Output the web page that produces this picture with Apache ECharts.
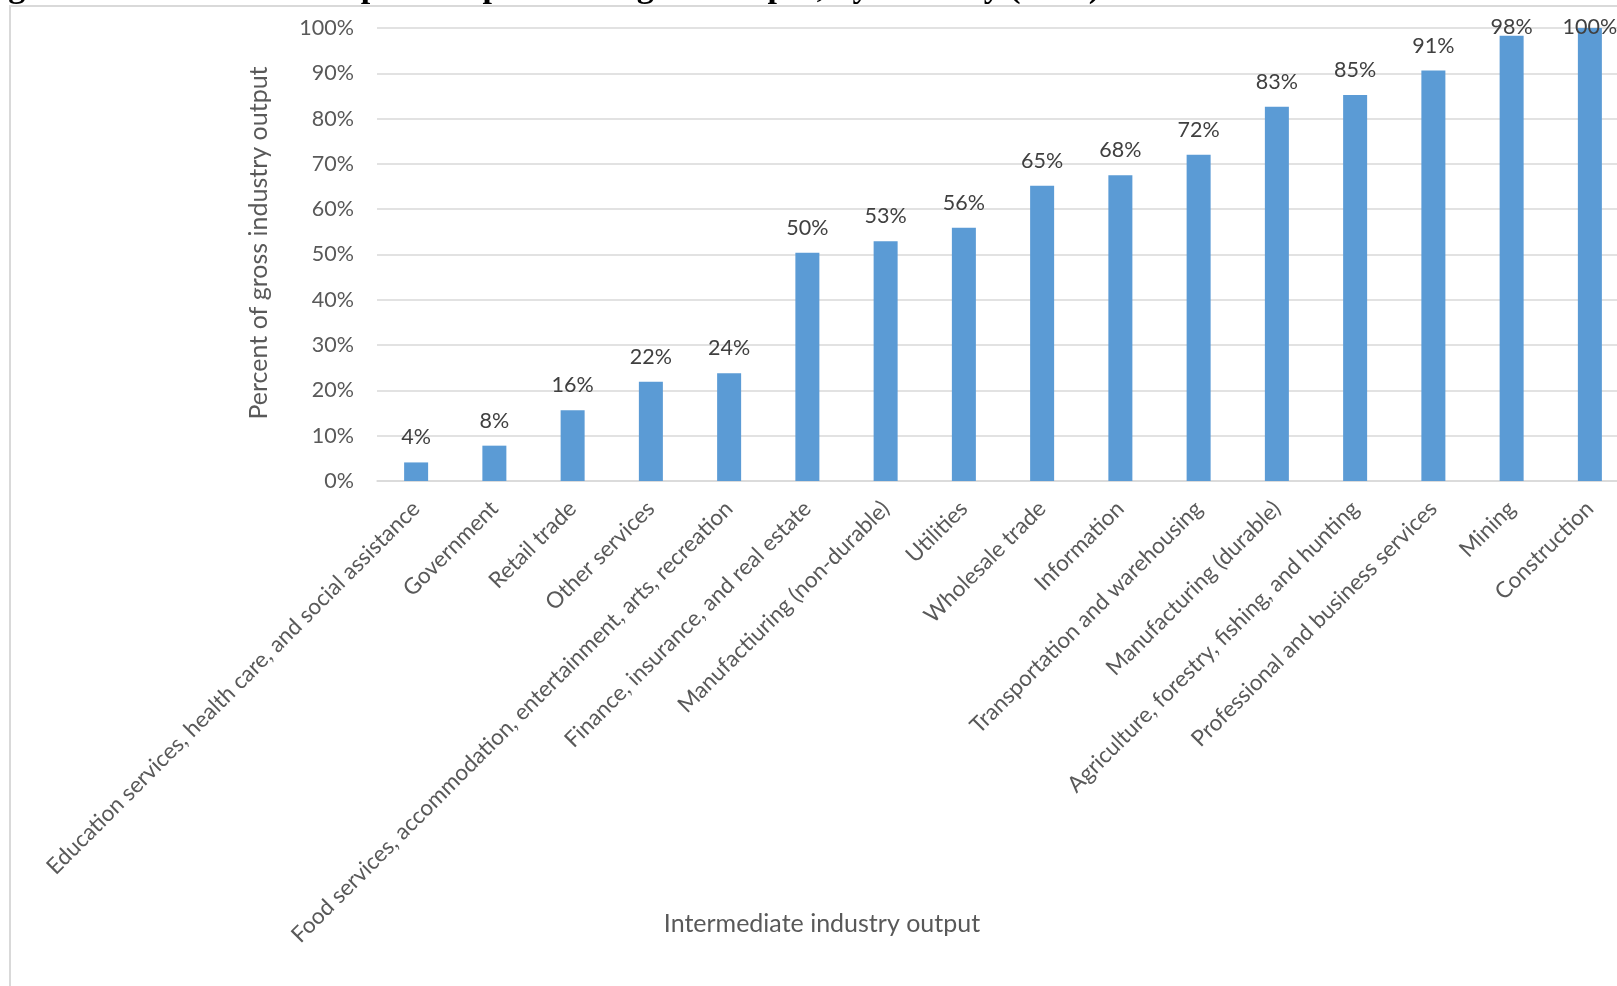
<!DOCTYPE html>
<html>
<head>
<meta charset="utf-8">
<script src="https://cdn.jsdelivr.net/npm/echarts@6/dist/echarts.min.js"></script>
<style>
  html, body { margin: 0; padding: 0; background: #fff; overflow: hidden; }
  /* plot runs past the right edge of the window, as in the cropped original */
  #chart { width: 1629px; height: 986px; }
</style>
</head>
<body>
<div id="chart"></div>
<script>
// industries, sorted by share
var industries = [
  'Education services, health care, and social assistance',
  'Government',
  'Retail trade',
  'Other services',
  'Food services, accommodation, entertainment, arts, recreation',
  'Finance, insurance, and real estate',
  'Manufactiuring (non-durable)',
  'Utilities',
  'Wholesale trade',
  'Information',
  'Transportation and warehousing',
  'Manufacturing (durable)',
  'Agriculture, forestry, fishing, and hunting',
  'Professional and business services',
  'Mining',
  'Construction'
];
// percent of gross industry output
var shares = [4.1, 7.8, 15.6, 21.9, 23.8, 50.4, 52.9, 55.9, 65.2, 67.5, 72.0, 82.6, 85.2, 90.6, 98.3, 100];
var yTicks = [0, 10, 20, 30, 40, 50, 60, 70, 80, 90, 100];

var titleText = 'Figure 4. Intermediate output as a percent of gross output, by industry (2015)';
var xTitle = 'Intermediate industry output';
var yTitle = 'Percent of gross industry output';

var font = 'Lato, "Open Sans", sans-serif';
var chart = echarts.init(document.getElementById('chart'));

var barData = shares.map(function (v) {
  var item = { value: v };
  // Excel keeps the labels inside the plot area, so the tallest ones sit lower
  if (v > 95) item.label = { distance: 14 - (v - 95) * 4.53 - 1 };
  return item;
});

var option = {
  animation: false,
  backgroundColor: '#fff',
  grid: { left: 377, right: 0, top: 28, bottom: 505, containLabel: false },
  xAxis: {
    type: 'category',
    data: industries,
    axisLine: { show: true, lineStyle: { color: '#d9d9d9', width: 1.5 } },
    axisTick: { show: false },
    axisLabel: {
      interval: 0,
      rotate: 45,
      margin: 24,
      color: '#595959',
      fontFamily: font,
      fontSize: 22.5
    }
  },
  yAxis: {
    type: 'value',
    min: yTicks[0],
    max: yTicks[yTicks.length - 1],
    interval: 10,
    axisLine: { show: false },
    axisTick: { show: false },
    splitLine: { lineStyle: { color: '#d9d9d9', width: 1.5 } },
    axisLabel: {
      margin: 23,
      color: '#595959',
      fontFamily: font,
      fontSize: 21.5,
      formatter: '{value}%'
    }
  },
  series: [{
    type: 'bar',
    data: barData,
    barWidth: 24,
    itemStyle: { color: '#5b9bd5' },
    label: {
      show: true,
      position: 'top',
      distance: 14,
      color: '#404040',
      fontFamily: font,
      fontSize: 21.5,
      formatter: function (p) { return Math.round(p.value) + '%'; }
    }
  }],
  graphic: [
    {
      type: 'rect',
      shape: { x: 10, y: 6, width: 1800, height: 1200 },
      style: { fill: 'none', stroke: '#d9d9d9', lineWidth: 2 },
      silent: true
    },
    {
      type: 'text',
      x: -22, y: 5,
      style: {
        text: titleText,
        font: 'bold 34px "Liberation Serif", "Times New Roman", serif',
        fill: '#000',
        verticalAlign: 'bottom'
      }
    },
    {
      type: 'text',
      x: 822, y: 924,
      style: {
        text: xTitle,
        font: '25px ' + font,
        fill: '#595959',
        align: 'center',
        verticalAlign: 'middle'
      }
    },
    {
      type: 'text',
      x: 259, y: 243,
      rotation: Math.PI / 2,
      style: {
        text: yTitle,
        font: '25px ' + font,
        fill: '#595959',
        align: 'center',
        verticalAlign: 'middle'
      }
    }
  ]
};

chart.setOption(option);
</script>
</body>
</html>
